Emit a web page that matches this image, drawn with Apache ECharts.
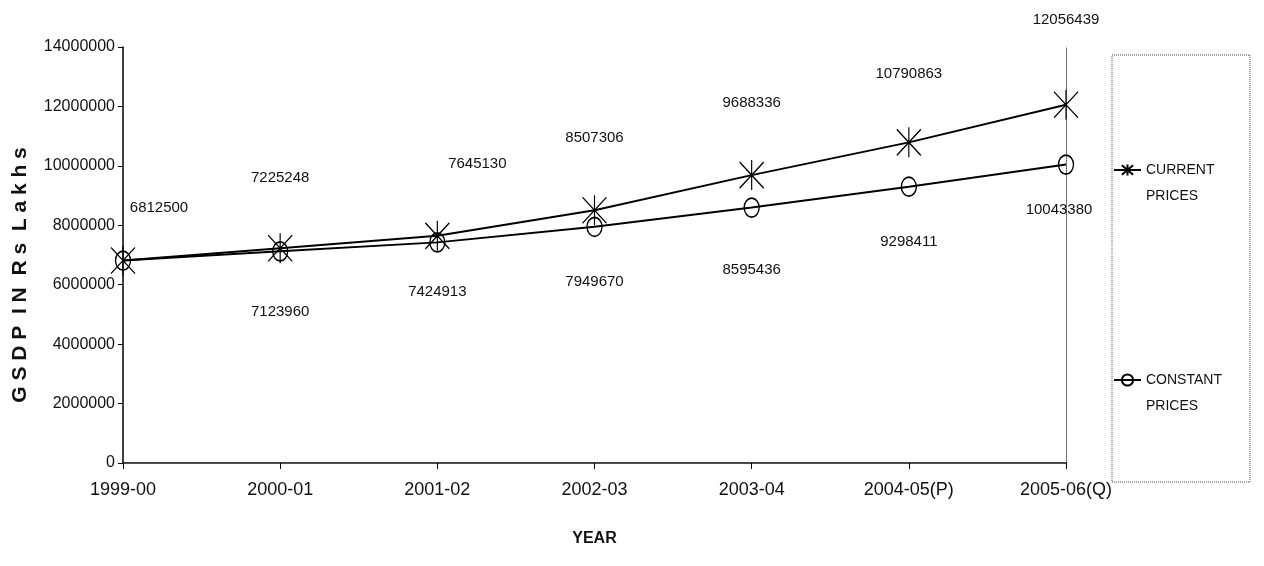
<!DOCTYPE html>
<html><head><meta charset="utf-8">
<script src="https://cdn.jsdelivr.net/npm/echarts@6/dist/echarts.min.js"></script>
<style>html,body{margin:0;padding:0;background:#fff}#c{width:1264px;height:566px}</style>
</head><body><div id="c"></div>
<script>
const years = ['1999-00','2000-01','2001-02','2002-03','2003-04','2004-05(P)','2005-06(Q)'];
const currentPrices = [6812500, 7225248, 7645130, 8507306, 9688336, 10790863, 12056439];
const constantPrices = [6812500, 7123960, 7424913, 7949670, 8595436, 9298411, 10043380];
const yTicks = [0, 2000000, 4000000, 6000000, 8000000, 10000000, 12000000, 14000000];

const FONT = '"Liberation Sans", Arial, sans-serif';
const curLabelOffsets = [[36,20],[0,2],[40,0],[0,0],[0,0],[0,4],[0,-13]];
const conLabelOffsets = [[0,0],[0,5],[0,-6],[0,-1],[0,6],[0,-1],[-7,-11]];

const chart = echarts.init(document.getElementById('c'), null, {renderer:'canvas'});
const asterisk = 'path://M0,-15 L0,15 M-12,-13 L12,13 M12,-13 L-12,13';

chart.setOption({
  animation: false,
  backgroundColor: '#fff',
  grid: {left: 123, right: 198, top: 47, bottom: 103},
  legend: {
    orient: 'vertical',
    left: 1112, top: 55,
    padding: [76, 28, 63, 1],
    itemGap: 132,
    itemWidth: 27, itemHeight: 14,
    borderColor: '#444', borderWidth: 1, borderType: 'dotted',
    textStyle: {fontFamily: FONT, fontSize: 14, color: '#111', lineHeight: 26},
    formatter: n => '\n' + n.replace(' ', '\n'),
    data: ['CURRENT PRICES', 'CONSTANT PRICES']
  },
  xAxis: [{
    type: 'category', data: years, boundaryGap: false,
    axisLine: {lineStyle: {color: '#000', width: 1.5}},
    axisTick: {show: true, length: 6, lineStyle: {color: '#000'}},
    axisLabel: {fontFamily: FONT, fontSize: 18, color: '#111', margin: 18},
    name: 'YEAR', nameLocation: 'middle', nameGap: 68,
    nameTextStyle: {fontFamily: FONT, fontSize: 16, fontWeight: 'bold', color: '#111'}
  },{
    type: 'category', data: years, boundaryGap: false, position: 'top',
    axisLine: {lineStyle: {color: '#555', width: 1, type: 'dotted'}},
    axisTick: {show: false}, axisLabel: {show: false}
  }],
  yAxis: [{
    type: 'value', min: 0, max: 14000000, interval: 2000000,
    axisLine: {show: true, lineStyle: {color: '#000', width: 1.5}},
    axisTick: {show: true, length: 5, lineStyle: {color: '#000'}},
    splitLine: {show: false},
    axisLabel: {fontFamily: FONT, fontSize: 16, color: '#111', margin: 8,
      formatter: v => yTicks.includes(v) ? String(v) : ''},
    name: 'G S D P  I N  R s  L a k h s', nameLocation: 'middle', nameGap: 92, nameRotate: 90,
    nameTextStyle: {fontFamily: FONT, fontSize: 21, fontWeight: 'bold', color: '#111',
      padding: [0, 40, 0, 0]}
  },{
    type: 'value', min: 0, max: 14000000, interval: 2000000, position: 'right',
    axisLine: {show: true, lineStyle: {color: '#555', width: 1, type: 'dotted'}},
    axisTick: {show: false}, axisLabel: {show: false}, splitLine: {show: false}
  }],
  series: [{
    name: 'CURRENT PRICES', type: 'line', data: currentPrices.map((v,i)=>({value:v, label:{offset: curLabelOffsets[i]}})),
    symbol: asterisk, symbolSize: [24, 30],
    lineStyle: {color: '#000', width: 2},
    itemStyle: {color: '#000', borderColor: '#000', borderWidth: 1.3},
    label: {show: true, position: 'top', distance: 49, fontFamily: FONT, fontSize: 15, color: '#111'},
    z: 3
  },{
    name: 'CONSTANT PRICES', type: 'line', data: constantPrices.map((v,i)=>({value:v, label:{offset: conLabelOffsets[i]}})),
    symbol: 'circle', symbolSize: [15, 19],
    lineStyle: {color: '#000', width: 2},
    itemStyle: {color: 'rgba(0,0,0,0)', borderColor: '#000', borderWidth: 1.5},
    label: {show: true, position: 'bottom', distance: 38, fontFamily: FONT, fontSize: 15, color: '#111',
      formatter: p => p.dataIndex === 0 ? '' : String(p.value)},
    z: 2
  }]
});
</script></body></html>
